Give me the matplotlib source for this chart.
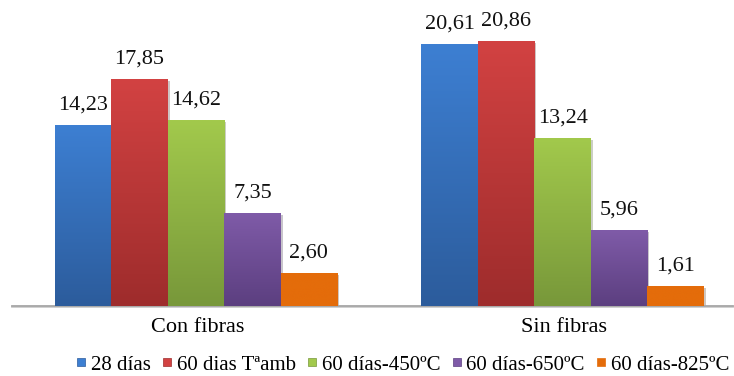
import numpy as np
import matplotlib
matplotlib.use("Agg")
import matplotlib.pyplot as plt
import matplotlib.patheffects as pe
from matplotlib.colors import LinearSegmentedColormap
from matplotlib.lines import Line2D

grupos = ["Con fibras", "Sin fibras"]
series = ["28 días", "60 dias Tªamb", "60 días-450ºC", "60 días-650ºC", "60 días-825ºC"]
con_fibras = [14.23, 17.85, 14.62, 7.35, 2.60]
sin_fibras = [20.61, 20.86, 13.24, 5.96, 1.61]

# color arriba / color abajo de cada serie (degradado vertical)
colores = [
    ("#3d7fd2", "#2c5c9c"),
    ("#d24242", "#9e2c2c"),
    ("#a2c94c", "#78983a"),
    ("#7f5ba8", "#5c3f80"),
    ("#e46c0a", "#e46c0a"),
]

plt.rcParams["font.family"] = ["Liberation Serif", "DejaVu Serif"]

fig = plt.figure(figsize=(7.34, 3.76), dpi=100)
ax = fig.add_axes([12 / 734, 70 / 376, 721 / 734, 296 / 376])

ancho = 0.154
valores = np.array([con_fibras, sin_fibras])
x = np.arange(len(grupos))

for i, nombre in enumerate(series):
    pos = x + (i - 2) * ancho
    top, bot = colores[i]
    cmap = LinearSegmentedColormap.from_list("g%d" % i, [bot, top])
    barras = ax.bar(pos, valores[:, i], ancho, color=top, linewidth=0, zorder=2,
                    path_effects=[pe.SimplePatchShadow(offset=(1.5, -1.5), alpha=0.25), pe.Normal()])
    for b, v in zip(barras, valores[:, i]):
        x0 = b.get_x()
        grad = np.linspace(0, 1, 100).reshape(-1, 1)
        im = ax.imshow(grad, cmap=cmap, origin="lower", aspect="auto",
                       extent=[x0, x0 + ancho, 0, v], zorder=3)
        im.set_clip_path(b)
        ax.annotate(f"{v:.2f}".replace(".", ","), (x0 + ancho / 2, v),
                    xytext=(0, 11), textcoords="offset points",
                    ha="center", va="baseline", fontsize=16, color="#111111", zorder=4)

ax.set_xlim(-0.502, 1.465)
ax.set_ylim(0, 23.3)
for s in ["top", "right", "left"]:
    ax.spines[s].set_visible(False)
ax.spines["bottom"].set_color("#a6a6a6")
ax.spines["bottom"].set_linewidth(1.3)
ax.spines["bottom"].set_path_effects([pe.SimpleLineShadow(offset=(0, -1), alpha=0.2), pe.Normal()])
ax.set_yticks([])
ax.set_xticks(x + 0.005)
ax.set_xticklabels(grupos, fontsize=16)
ax.tick_params(axis="x", length=0, pad=9)

handles = [Line2D([], [], marker="s", linestyle="", markersize=6,
                  markerfacecolor=c[0], markeredgecolor=c[1], markeredgewidth=0.5)
           for c in colores]
fig.legend(handles, series, loc="center", bbox_to_anchor=(402 / 734, 1 - 365 / 376),
           ncol=5, frameon=False, fontsize=15, handlelength=0.6, handletextpad=0.15,
           columnspacing=0.5, borderpad=0)

fig.savefig("out.png", dpi=100)
